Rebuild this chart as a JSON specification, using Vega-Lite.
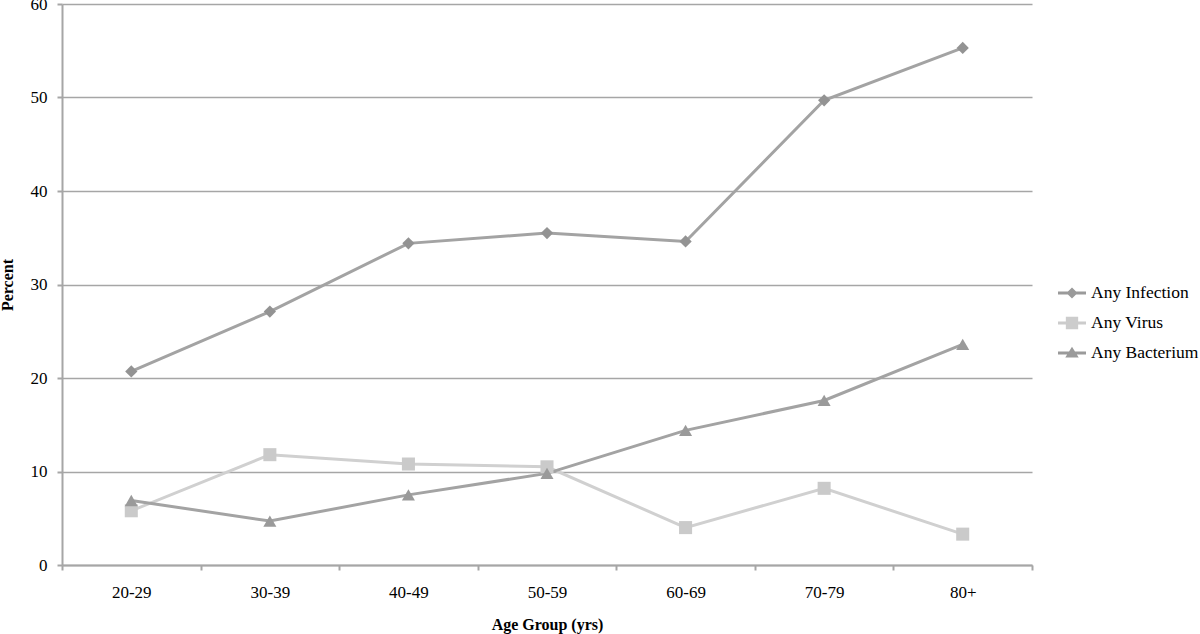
{
  "$schema": "https://vega.github.io/schema/vega-lite/v6.json",
  "width": 970,
  "height": 561,
  "autosize": {"type": "none"},
  "padding": {"left": 62, "top": 4, "right": 168, "bottom": 69},
  "background": "white",
  "config": {
    "view": {"stroke": null},
    "font": "Liberation Serif",
    "legend": {"labelFont": "Liberation Serif", "labelFontSize": 17.5, "labelColor": "#000000"},
    "axis": {
      "labelFont": "Liberation Serif",
      "titleFont": "Liberation Serif",
      "labelFontSize": 17,
      "titleFontSize": 16,
      "labelColor": "#000000",
      "titleColor": "#000000",
      "titleFontWeight": "bold",
      "domainColor": "#a6a6a6",
      "domainWidth": 2,
      "tickColor": "#a6a6a6",
      "tickWidth": 2,
      "tickSize": 5,
      "gridColor": "#a6a6a6",
      "gridWidth": 1.5
    }
  },
  "data": {
    "values": [
      {"age": "20-29", "series": "Any Infection", "pct": 20.7},
      {"age": "30-39", "series": "Any Infection", "pct": 27.1},
      {"age": "40-49", "series": "Any Infection", "pct": 34.4},
      {"age": "50-59", "series": "Any Infection", "pct": 35.5},
      {"age": "60-69", "series": "Any Infection", "pct": 34.6},
      {"age": "70-79", "series": "Any Infection", "pct": 49.7},
      {"age": "80+", "series": "Any Infection", "pct": 55.3},
      {"age": "20-29", "series": "Any Virus", "pct": 5.8},
      {"age": "30-39", "series": "Any Virus", "pct": 11.8},
      {"age": "40-49", "series": "Any Virus", "pct": 10.8},
      {"age": "50-59", "series": "Any Virus", "pct": 10.5},
      {"age": "60-69", "series": "Any Virus", "pct": 4.0},
      {"age": "70-79", "series": "Any Virus", "pct": 8.2},
      {"age": "80+", "series": "Any Virus", "pct": 3.3},
      {"age": "20-29", "series": "Any Bacterium", "pct": 6.9},
      {"age": "30-39", "series": "Any Bacterium", "pct": 4.7},
      {"age": "40-49", "series": "Any Bacterium", "pct": 7.5},
      {"age": "50-59", "series": "Any Bacterium", "pct": 9.8},
      {"age": "60-69", "series": "Any Bacterium", "pct": 14.4},
      {"age": "70-79", "series": "Any Bacterium", "pct": 17.6},
      {"age": "80+", "series": "Any Bacterium", "pct": 23.6}
    ]
  },
  "encoding": {
    "x": {
      "field": "age",
      "type": "ordinal",
      "sort": null,
      "scale": {"type": "band", "paddingInner": 0, "paddingOuter": 0},
      "axis": {
        "title": "Age Group (yrs)",
        "labelAngle": 0,
        "tickBand": "extent",
        "grid": false,
        "labelPadding": 14,
        "titlePadding": 16
      }
    },
    "y": {
      "field": "pct",
      "type": "quantitative",
      "scale": {"domain": [0, 60], "nice": false},
      "axis": {
        "title": "Percent",
        "values": [0, 10, 20, 30, 40, 50, 60],
        "labelPadding": 10,
        "titlePadding": 15
      }
    }
  },
  "layer": [
    {
      "mark": {"type": "line", "strokeWidth": 3},
      "encoding": {
        "color": {
          "field": "series",
          "type": "nominal",
          "sort": ["Any Infection", "Any Virus", "Any Bacterium"],
          "scale": {
            "domain": ["Any Infection", "Any Virus", "Any Bacterium"],
            "range": ["#a3a3a3", "#d0d0d0", "#a3a3a3"]
          },
          "legend": {
            "title": null,
            "orient": "none",
            "legendX": 996,
            "legendY": 275,
            "labelFont": "Liberation Serif",
            "labelFontSize": 17.5,
            "labelColor": "#000000",
            "rowPadding": 7,
            "symbolSize": 784,
            "labelOffset": 5,
            "encode": {
              "labels": {"update": {"font": {"value": "Liberation Serif"}}},
              "symbols": {
                "update": {
                  "shape": {"signal": "datum.value === 'Any Infection' ? 'M-1,-0.1H1V0.1H-1Z M0,-0.4L0.4,0L0,0.4L-0.4,0Z' : datum.value === 'Any Virus' ? 'M-1,-0.1H1V0.1H-1Z M-0.44,-0.44H0.44V0.44H-0.44Z' : 'M-1,-0.1H1V0.1H-1Z M0,-0.44L0.48,0.32H-0.48Z'"},
                  "fill": {"signal": "datum.value === 'Any Virus' ? '#cccccc' : '#9a9a9a'"},
                  "stroke": {"value": null},
                  "strokeWidth": {"value": 0}
                }
              }
            }
          }
        }
      }
    },
    {
      "transform": [{"filter": "datum.series === 'Any Infection'"}],
      "mark": {"type": "point", "filled": true, "opacity": 1, "shape": "diamond", "size": 150, "fill": "#939393"}
    },
    {
      "transform": [{"filter": "datum.series === 'Any Virus'"}],
      "mark": {"type": "point", "filled": true, "opacity": 1, "shape": "square", "size": 170, "fill": "#cacaca"}
    },
    {
      "transform": [{"filter": "datum.series === 'Any Bacterium'"}],
      "mark": {"type": "point", "filled": true, "opacity": 1, "shape": "triangle-up", "size": 170, "fill": "#9a9a9a"}
    }
  ]
}
